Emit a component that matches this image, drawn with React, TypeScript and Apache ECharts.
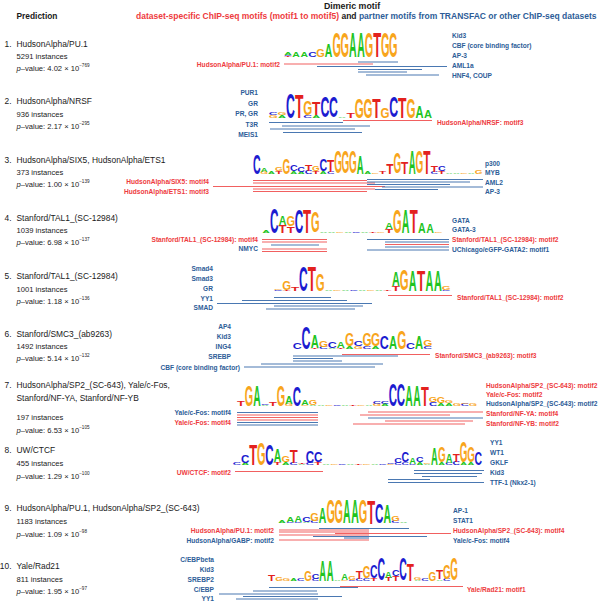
import React, { useEffect, useRef } from "react";
import * as echarts from "echarts";

const FONT_FAMILY = "'Liberation Sans', Arial, Helvetica, sans-serif";
const R = 0; // red: dataset-specific ChIP-seq motif
const B = 1; // blue: partner motif

// ---------------- Prediction column ----------------
const predictionNames = [
  "HudsonAlpha/PU.1",
  "HudsonAlpha/NRSF",
  "HudsonAlpha/SIX5, HudsonAlpha/ETS1",
  "Stanford/TAL1_(SC-12984)",
  "Stanford/TAL1_(SC-12984)",
  "Stanford/SMC3_(ab9263)",
  "HudsonAlpha/SP2_(SC-643), Yale/c-Fos,\nStanford/NF-YA, Stanford/NF-YB",
  "UW/CTCF",
  "HudsonAlpha/PU.1, HudsonAlpha/SP2_(SC-643)",
  "Yale/Rad21",
];
const instanceCounts = [5291, 936, 373, 1039, 1001, 1492, 197, 455, 1183, 811];
const pMantissas = ["4.02", "2.17", "1.00", "6.98", "1.18", "5.14", "6.53", "1.29", "1.09", "1.95"];
const pExponents = [-769, -295, -139, -137, -136, -132, -105, -100, -98, -97];

// ---------------- Logos: columns, letters stacked bottom->top, heights in tenths ----------------
const logo1 = [["t0.3c0.3a1", "a2", "a2", "c2", "G3", "A5", "G10", "G10", "A10", "A10", "G10", "T10", "G10", "G10"]];
const logo2 = [["g1c1", "a1g1", "C10", "T9.5", "c1G6", "a1T5", "C8.5", "C8.5", "a0.5", "t2", "G8", "G8", "T8", "G4", "C8.5", "T8.5", "G8", "A4.5", "A3"]];
const logo3 = [["C8.5", "g1a1.5", "a1", "t1g1.5", "G7", "a1C3", "a1c2", "c1.5T3", "t1g2.5", "a1C5", "c1T5", "G10", "G10", "G10", "A8", "a0.8", "g0.5", "t1", "T4.5", "G9.5", "T5", "A10", "G10", "T10", "c1T2.5", "t1C2.5", "a0.5", "a0.5", "g0.5", "a0.5", "g1.5"]];
const logo4 = [["a0.8", "C10", "t3A3.5", "t2.5G4.5", "C9.5", "T9.5", "G8.5", "a0.5", "a0.3", "g0.3", "a0.3", "c0.3", "a0.3", "t0.3", "g0.3", "t1.5A2.5", "G9.5", "A9.5", "T9.5", "A4", "A3.5", "g0.5"]];
const logo5 = [["c0.5g0.3", "t0.5G3.5", "t1.5", "C10", "T10", "G7", "a0.5", "g0.3", "a0.3", "c0.3", "a0.3", "g0.3", "a0.3", "t0.3", "T2A5.5", "G8.5", "A8.5", "T8.5", "A8.5", "A8.5", "c0.5g1.5"]];
const logo6 = [["C2.5", "C9.5", "t0.5A5.5", "c1G3", "a0.5C3", "t0.5A2.5", "a1G5.5", "g1c2", "c1G5.5", "a1G5.5", "C5.5", "A5.5", "G7.5", "C3", "A5.5", "c1G2.5"]];
const logo7 = [["T2", "G9", "A9", "a0.5c0.5", "t1.5", "G9", "g1A3.5", "C8.5", "g0.5A2", "a0.5G2", "a0.3", "g0.3", "c0.3", "a0.5", "t0.3", "g0.3", "a0.3", "g1c1", "a1c1", "C10", "C10", "A9", "A9", "T8.5", "c1.5G2", "A1G3", "a1g1", "g1", "c1g0.5", "g1"]];
const logo8 = [
  ["c1", "a1C3.5", "T9", "G10", "C9", "t1A5.5", "a1G3", "c1T5.5", "a0.5t0.5", "c1C5", "t1C4.5"],
  ["a0.3", "g0.3", "c0.3", "a0.6", "t0.3", "g0.3", "a0.3", "c0.3"],
  ["g0.5c0.8", "c1C2", "c1C4.5", "c0.5A2.5", "a1C2.5", "a0.5g0.5", "A7.5", "a1G7", "c1A4", "c1.5T3.5", "a1G9", "a1G7", "C5.5"],
];
const logo9 = [["a1", "c0.5A2", "c0.5A2.5", "a0.5C2", "c1G3.5", "A6.5", "G10", "G10", "A10", "A10", "G10", "T10", "C8.5", "A7.5", "c1G2", "a0.3"]];
const logo10 = [["T2.5", "g1.5", "g1.2", "a1", "c1", "G4.5", "c1C2", "A9", "A9", "a0.5", "g0.5A3", "c0.5g1.5", "c1T3.5", "c1G5", "t1C5.5", "C10", "t1.5A3", "T2C3", "C10", "T7.5", "a0.5g1", "c1", "G4", "a0.5T4", "c1G6.5", "G10"]];
const logos = [logo1, logo2, logo3, logo4, logo5, logo6, logo7, logo8, logo9, logo10];

// ---------------- Motif match spans: [start, end, track, kind] ----------------
const spans1 = [[284, 373, 64, R], [358, 398, 62, B], [317, 447, 66.5, B], [358, 422, 69.5, B], [358, 407, 72, B], [366, 439, 75, B]];
const spans2 = [[343, 432, 120.5, R], [269, 343, 122.5, B], [282, 370, 126, B], [270, 355, 129, B], [283, 362, 132.5, B]];
const spans3 = [[253, 367, 180.5, R], [253, 375, 183, R], [213, 385, 186.5, R], [253, 375, 189, R], [253, 367, 191.5, R], [367, 483, 179.5, B], [367, 470, 182, B], [367, 450, 184.5, B], [382, 483, 187, B], [375, 438, 189.5, B]];
const spans4 = [[262, 327, 239.5, R], [262, 327, 242, R], [271, 319, 245, B], [262, 327, 249, R], [262, 327, 251.5, R], [367, 449, 239.5, B], [385, 449, 242, B], [385, 449, 244.5, R], [385, 449, 247, B], [367, 449, 250, B]];
const spans5 = [[274, 331, 297.5, B], [242, 347, 300.5, B], [217, 372, 303.5, B], [274, 363, 306, B], [266, 355, 309, B], [388, 452, 295.5, R]];
const spans6 = [[342, 430, 354.5, R], [293, 398, 356, B], [293, 333, 358.5, B], [293, 342, 361, B], [261, 383, 364, B], [244, 375, 367, B]];
const spans7 = [[237, 318, 412.5, B], [237, 318, 415, R], [237, 318, 417.5, R], [237, 318, 420, R], [237, 318, 422.5, B], [237, 318, 425, B], [368, 483, 412, R], [360, 450, 415, R], [368, 483, 418, B], [385, 473, 421, R], [353, 465, 424, R]];
const spans8 = [[235, 323, 471.5, R], [414, 484, 470.5, B], [414, 482, 473.5, B], [422, 477, 476.5, B], [388, 430, 479.5, B], [388, 484, 482.5, B]];
const spans9 = [[319, 409, 528.5, B], [279, 369, 530, R], [279, 369, 532, R], [335, 451, 533.5, R], [279, 369, 535, R], [313, 427, 536.5, B], [344, 369, 538, B], [279, 369, 540, R]];
const spans10 = [[340, 463, 586.5, R], [269, 358, 587.5, B], [253, 317, 591, B], [219, 318, 594, B], [243, 342, 596.5, B], [236, 318, 599, B]];
const spans = [spans1, spans2, spans3, spans4, spans5, spans6, spans7, spans8, spans9, spans10];

// ---------------- Motif labels: [text, kind, anchorX, anchorY, side] ----------------
const labels1 = [["HudsonAlpha/PU.1: motif2", R, 280, 64, "r"], ["Kid3", B, 452, 35, "l"], ["CBF (core binding factor)", B, 452, 45, "l"], ["AP-3", B, 452, 55, "l"], ["AML1a", B, 452, 65, "l"], ["HNF4, COUP", B, 452, 75, "l"]];
const labels2 = [["PUR1", B, 258, 92.5, "r"], ["GR", B, 258, 103, "r"], ["PR, GR", B, 258, 113.5, "r"], ["T3R", B, 258, 124, "r"], ["MEIS1", B, 258, 134, "r"], ["HudsonAlpha/NRSF: motif3", R, 437, 122, "l"]];
const labels3 = [["HudsonAlpha/SIX5: motif4", R, 209, 181.5, "r"], ["HudsonAlpha/ETS1: motif3", R, 209, 191.5, "r"], ["p300", B, 485, 163, "l"], ["MYB", B, 485, 172.5, "l"], ["AML2", B, 485, 182, "l"], ["AP-3", B, 485, 191.5, "l"]];
const labels4 = [["Stanford/TAL1_(SC-12984): motif4", R, 258, 239.5, "r"], ["NMYC", B, 258, 248.5, "r"], ["GATA", B, 452, 220, "l"], ["GATA-3", B, 452, 229.5, "l"], ["Stanford/TAL1_(SC-12984): motif2", R, 452, 239.5, "l"], ["UChicago/eGFP-GATA2: motif1", B, 452, 249.5, "l"]];
const labels5 = [["Smad4", B, 213, 268.5, "r"], ["Smad3", B, 213, 278.5, "r"], ["GR", B, 213, 288, "r"], ["YY1", B, 213, 298, "r"], ["SMAD", B, 213, 307.5, "r"], ["Stanford/TAL1_(SC-12984): motif2", R, 457, 297, "l"]];
const labels6 = [["AP4", B, 231, 326, "r"], ["Kid3", B, 231, 336, "r"], ["ING4", B, 231, 346, "r"], ["SREBP", B, 231, 356, "r"], ["CBF (core binding factor)", B, 240, 367, "r"], ["Stanford/SMC3_(ab9263): motif3", R, 435, 355.5, "l"]];
const labels7 = [["Yale/c-Fos: motif4", B, 231, 412.5, "r"], ["Yale/c-Fos: motif4", R, 231, 422.5, "r"], ["HudsonAlpha/SP2_(SC-643): motif2", R, 486, 385, "l"], ["Yale/c-Fos: motif2", R, 486, 394, "l"], ["HudsonAlpha/SP2_(SC-643): motif2", B, 486, 403.5, "l"], ["Stanford/NF-YA: motif4", R, 486, 413, "l"], ["Stanford/NF-YB: motif2", R, 486, 423, "l"]];
const labels8 = [["UW/CTCF: motif2", R, 231, 472, "r"], ["YY1", B, 490, 442, "l"], ["WT1", B, 490, 452, "l"], ["GKLF", B, 490, 462, "l"], ["Kid3", B, 490, 472, "l"], ["TTF-1 (Nkx2-1)", B, 490, 482, "l"]];
const labels9 = [["HudsonAlpha/PU.1: motif2", R, 274, 530, "r"], ["HudsonAlpha/GABP: motif2", B, 274, 540, "r"], ["AP-1", B, 453, 510, "l"], ["STAT1", B, 453, 520, "l"], ["HudsonAlpha/SP2_(SC-643): motif4", R, 453, 530, "l"], ["Yale/c-Fos: motif4", B, 453, 540, "l"]];
const labels10 = [["C/EBPbeta", B, 214, 559.5, "r"], ["Kid3", B, 214, 569.5, "r"], ["SREBP2", B, 214, 579, "r"], ["C/EBP", B, 214, 589, "r"], ["YY1", B, 214, 598.5, "r"], ["Yale/Rad21: motif1", R, 467, 589, "l"]];
const labels = [labels1, labels2, labels3, labels4, labels5, labels6, labels7, labels8, labels9, labels10];

// ---------------- Layout (positions/sizes) ----------------
const NAME_Y = [43.5, 101, 160, 217.5, 276, 334, 385, 450, 508, 566];
const INST_Y = [56, 114, 172.5, 230, 289, 346.5, 417.5, 463, 521.5, 579];
const PVAL_Y = [68.5, 126.5, 184.5, 242, 301.5, 358.5, 430, 476, 534, 591.5];
const LOGO_FRAMES = [
  { base: 57, h: 26, parts: [[284, 8.1]] },
  { base: 118, h: 26, parts: [[269, 8.6]] },
  { base: 174, h: 24, parts: [[253, 7.4]] },
  { base: 233, h: 26, parts: [[262, 8.2]] },
  { base: 291, h: 26, parts: [[274, 8.4]] },
  { base: 349, h: 25, parts: [[293, 8.7]] },
  { base: 406, h: 24, parts: [[237, 8.0]] },
  { base: 465, h: 24, parts: [[233, 8.1], [322, 8.1], [387, 7.3]] },
  { base: 523.5, h: 24.5, parts: [[278, 8.1]] },
  { base: 581, h: 24, parts: [[268, 7.3]] },
];

// ---------------- Styles ----------------
const LETTERS = "ACGT";
const LETTER_COLORS = ["#1fc41f", "#1c1cd0", "#f8a51c", "#e3211e"];
const INK_W = [14.4, 13.0, 13.8, 11.6]; // at 20px bold
const INK_H = [14.6, 15.1, 15.1, 14.6];
const TEXT_COLOR = "#1a1a1a";
const RED_TEXT = "#ee3b40";
const BLUE_TEXT = "#2d5d98";
const RED_LINE = "#f16060";
const BLUE_LINE = "#4a78b2";

function buildOption() {
  // letters
  const letterData: number[][] = [];
  logos.forEach((parts, i) => {
    const fr = LOGO_FRAMES[i];
    parts.forEach((cols, j) => {
      const [x0, w] = fr.parts[j];
      cols.forEach((tok, k) => {
        let cum = 0;
        const re = /([ACGTacgt])([\d.]+)/g;
        let m: RegExpExecArray | null;
        while ((m = re.exec(tok))) {
          const code = LETTERS.indexOf(m[1].toUpperCase());
          const hh = (parseFloat(m[2]) / 10) * fr.h;
          letterData.push([x0 + k * w, x0 + (k + 1) * w, fr.base - cum, fr.base - cum - hh, code]);
          cum += hh;
        }
      });
    });
  });

  const spanData: number[][] = [];
  spans.forEach((rows) => rows.forEach((s) => spanData.push([s[0], s[1], s[2], s[3]])));

  const allLabels: any[] = [];
  labels.forEach((rows) => rows.forEach((l) => allLabels.push(l)));
  const labelData = allLabels.map((l, i) => [l[2], l[3], i]);

  const graphics: any[] = [];
  const bold = (s: number) => `bold ${s}px ${FONT_FAMILY}`;
  const reg = (s: number) => `${s}px ${FONT_FAMILY}`;
  graphics.push({
    type: "text", x: 352, y: 5.5, silent: true,
    style: { text: "Dimeric motif", font: bold(8.8), fill: TEXT_COLOR, align: "center", verticalAlign: "middle" },
  });
  graphics.push({
    type: "text", x: 16.5, y: 15.5, silent: true,
    style: { text: "Prediction", font: bold(8.4), fill: TEXT_COLOR, align: "left", verticalAlign: "middle" },
  });
  graphics.push({
    type: "text", x: 136, y: 15.5, silent: true,
    style: {
      text: "{r|dataset-specific ChIP-seq motifs (motif1 to motif5)}{k| and }{b|partner motifs from TRANSFAC or other ChIP-seq datasets}",
      font: bold(8.5), align: "left", verticalAlign: "middle",
      rich: {
        r: { font: bold(8.5), fill: RED_TEXT },
        k: { font: bold(8.5), fill: TEXT_COLOR },
        b: { font: bold(8.5), fill: BLUE_TEXT },
      },
    },
  });

  predictionNames.forEach((name, i) => {
    graphics.push({
      type: "text", x: 11.5, y: NAME_Y[i], silent: true,
      style: { text: `${i + 1}.`, font: reg(8.4), fill: TEXT_COLOR, align: "right", verticalAlign: "middle" },
    });
    name.split("\n").forEach((line, k) => {
      graphics.push({
        type: "text", x: 16.5, y: NAME_Y[i] + k * 12.5, silent: true,
        style: { text: line, font: reg(8.4), fill: TEXT_COLOR, align: "left", verticalAlign: "middle" },
      });
    });
    graphics.push({
      type: "text", x: 16.5, y: INST_Y[i], silent: true,
      style: { text: `${instanceCounts[i]} instances`, font: reg(7.6), fill: TEXT_COLOR, align: "left", verticalAlign: "middle" },
    });
    graphics.push({
      type: "text", x: 16.5, y: PVAL_Y[i], silent: true,
      style: {
        text: `{i|p}{n|\u2013value: ${pMantissas[i]} \u00d7 10}{s|\u2212${Math.abs(pExponents[i])}}`,
        font: reg(7.6), align: "left", verticalAlign: "middle",
        rich: {
          i: { font: `italic 7.6px ${FONT_FAMILY}`, fill: TEXT_COLOR, lineHeight: 11 },
          n: { font: reg(7.6), fill: TEXT_COLOR, lineHeight: 11 },
          s: { font: reg(4.6), fill: TEXT_COLOR, lineHeight: 6, verticalAlign: "top" },
        },
      },
    });
  });

  return {
    animation: false,
    backgroundColor: "#ffffff",
    grid: { left: 0, right: 0, top: 0, bottom: 0 },
    xAxis: { type: "value", min: 0, max: 600, show: false },
    yAxis: { type: "value", min: 0, max: 602, inverse: true, show: false },
    tooltip: { show: false },
    graphic: { elements: graphics },
    series: [
      {
        type: "custom",
        name: "spans",
        silent: true,
        data: spanData,
        renderItem: (_p: any, api: any) => {
          const a = api.coord([api.value(0), api.value(2)]);
          const b = api.coord([api.value(1), api.value(2)]);
          return {
            type: "line",
            shape: { x1: a[0], y1: a[1], x2: b[0], y2: b[1] },
            style: { stroke: api.value(3) === R ? RED_LINE : BLUE_LINE, lineWidth: 1.1 },
          };
        },
      },
      {
        type: "custom",
        name: "logos",
        silent: true,
        data: letterData,
        renderItem: (_p: any, api: any) => {
          const a = api.coord([api.value(0), api.value(2)]);
          const b = api.coord([api.value(1), api.value(3)]);
          const code = api.value(4) as number;
          const wpx = Math.abs(b[0] - a[0]);
          const hpx = Math.abs(a[1] - b[1]);
          if (hpx < 0.25) return { type: "group", children: [] };
          const sx = (wpx * 0.93) / INK_W[code];
          const sy = hpx / INK_H[code];
          return {
            type: "text",
            x: (a[0] + b[0]) / 2,
            y: (a[1] + b[1]) / 2 + 0.36 * sy,
            scaleX: sx,
            scaleY: sy,
            style: {
              text: LETTERS[code],
              fill: LETTER_COLORS[code],
              font: `bold 20px ${FONT_FAMILY}`,
              align: "center",
              verticalAlign: "middle",
            },
          };
        },
      },
      {
        type: "custom",
        name: "labels",
        silent: true,
        data: labelData,
        renderItem: (_p: any, api: any) => {
          const l = allLabels[api.value(2) as number];
          const p = api.coord([api.value(0), api.value(1)]);
          return {
            type: "text",
            x: p[0],
            y: p[1],
            style: {
              text: l[0],
              fill: l[1] === R ? RED_TEXT : BLUE_TEXT,
              font: `bold 6.6px ${FONT_FAMILY}`,
              align: l[4] === "r" ? "right" : "left",
              verticalAlign: "middle",
            },
          };
        },
      },
    ],
  };
}

export default function App() {
  const ref = useRef<HTMLDivElement>(null);
  useEffect(() => {
    document.body.style.margin = "0";
    const chart = echarts.init(ref.current as HTMLDivElement, null, { renderer: "svg" });
    chart.setOption(buildOption() as any);
    return () => chart.dispose();
  }, []);
  return <div ref={ref} style={{ width: 600, height: 602, background: "#fff" }} />;
}
